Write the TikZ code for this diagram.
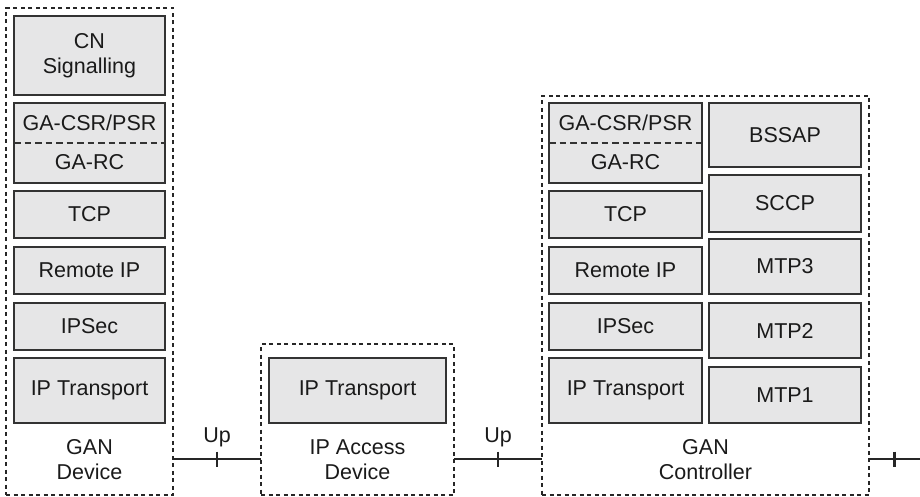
\documentclass[tikz,border=0pt]{standalone}
\usepackage{fontspec}
\setmainfont{Liberation Sans}
\usetikzlibrary{calc}
\definecolor{layerfill}{HTML}{E6E6E7}
\definecolor{edgec}{HTML}{333333}
\definecolor{textc}{HTML}{1A1A1A}
\definecolor{grpc}{HTML}{262626}
\newcommand\layerbox[6]{\node[layer, minimum width={(#4)-(#2)}, minimum height={(#5)-(#3)}] (#1) at ({((#2)+(#4))/2},{((#3)+(#5))/2}) {#6};}
\newcommand\groupbox[5]{\node[grp, minimum width={(#4)-(#2)}, minimum height={(#5)-(#3)}] (#1) at ({((#2)+(#4))/2},{((#3)+(#5))/2}) {};}
\begin{document}
\begin{tikzpicture}[x=1pt,y=-1pt,
  font=\fontsize{21.5}{25}\selectfont,
  layer/.style={draw=edgec, fill=layerfill, line width=1.4pt, inner sep=0pt, outer sep=0pt, align=center, text=textc},
  grp/.style={draw=grpc, line width=1.1pt, dash pattern=on 4pt off 3.5pt, inner sep=0pt, outer sep=0pt},
  lbl/.style={align=center, text=textc, inner sep=0pt},
  gadash/.style={draw=edgec, line width=1.1pt, dash pattern=on 6.5pt off 4pt},
  link/.style={draw=grpc, line width=1.9pt},
  tickline/.style={draw=grpc, line width=2.3pt}]
\useasboundingbox (0,0) rectangle (920,497);
% GAN Device
\groupbox{dev}{6}{8}{173}{495}
\layerbox{dcn}{14}{16}{165}{95}{CN\\Signalling}
\layerbox{dga}{14}{103}{165}{183}{}
\draw[gadash] (dga.west) -- (dga.east);
\node[lbl] (dga1) at ($(dga.center)+(0,-20.5)$) {GA-CSR/PSR};
\node[lbl] (dga2) at ($(dga.center)+(0,19.5)$) {GA-RC};
\layerbox{dtcp}{14}{191}{165}{238}{TCP}
\layerbox{drip}{14}{247}{165}{294}{Remote IP}
\layerbox{dsec}{14}{303}{165}{350}{IPSec}
\layerbox{dipt}{14}{358}{165}{423}{IP Transport}
\node[lbl] (devl) at (89.5,459.5) {GAN\\Device};
% IP Access Device
\groupbox{iad}{261}{344}{454}{495}
\layerbox{aipt}{269}{358}{446}{423}{IP Transport}
\node[lbl] (iadl) at (357.5,459.5) {IP Access\\Device};
% GAN Controller
\groupbox{ctl}{542}{96}{869}{495}
\layerbox{cga}{549}{103}{702}{183}{}
\draw[gadash] (cga.west) -- (cga.east);
\node[lbl] (cga1) at ($(cga.center)+(0,-20.5)$) {GA-CSR/PSR};
\node[lbl] (cga2) at ($(cga.center)+(0,19.5)$) {GA-RC};
\layerbox{ctcp}{549}{191}{702}{238}{TCP}
\layerbox{crip}{549}{247}{702}{294}{Remote IP}
\layerbox{csec}{549}{303}{702}{350}{IPSec}
\layerbox{cipt}{549}{358}{702}{423}{IP Transport}
\layerbox{cbss}{709}{103}{861}{167}{BSSAP}
\layerbox{csccp}{709}{175}{861}{232}{SCCP}
\layerbox{cmtp3}{709}{239}{861}{294}{MTP3}
\layerbox{cmtp2}{709}{303}{861}{358}{MTP2}
\layerbox{cmtp1}{709}{367}{861}{423}{MTP1}
\node[lbl] (ctll) at (705.5,459.5) {GAN\\Controller};
% connectors
\coordinate (lvl) at (0,459);
\coordinate (rend) at (920,459);
\draw[link] (dev.east |- lvl) -- (iad.west |- lvl) coordinate[midway] (m1);
\draw[link] (iad.east |- lvl) -- (ctl.west |- lvl) coordinate[midway] (m2);
\draw[link] (ctl.east |- lvl) -- (rend) coordinate[midway] (m3);
\draw[tickline] ($(m1)+(0,-7.5)$) -- ($(m1)+(0,7.5)$);
\draw[tickline] ($(m2)+(0,-7.5)$) -- ($(m2)+(0,7.5)$);
\draw[tickline] ($(m3)+(0,-7.5)$) -- ($(m3)+(0,7.5)$);
\node[lbl] (up1) at ($(m1)+(0,-22)$) {Up};
\node[lbl] (up2) at ($(m2)+(0,-22)$) {Up};
\end{tikzpicture}
\end{document}
